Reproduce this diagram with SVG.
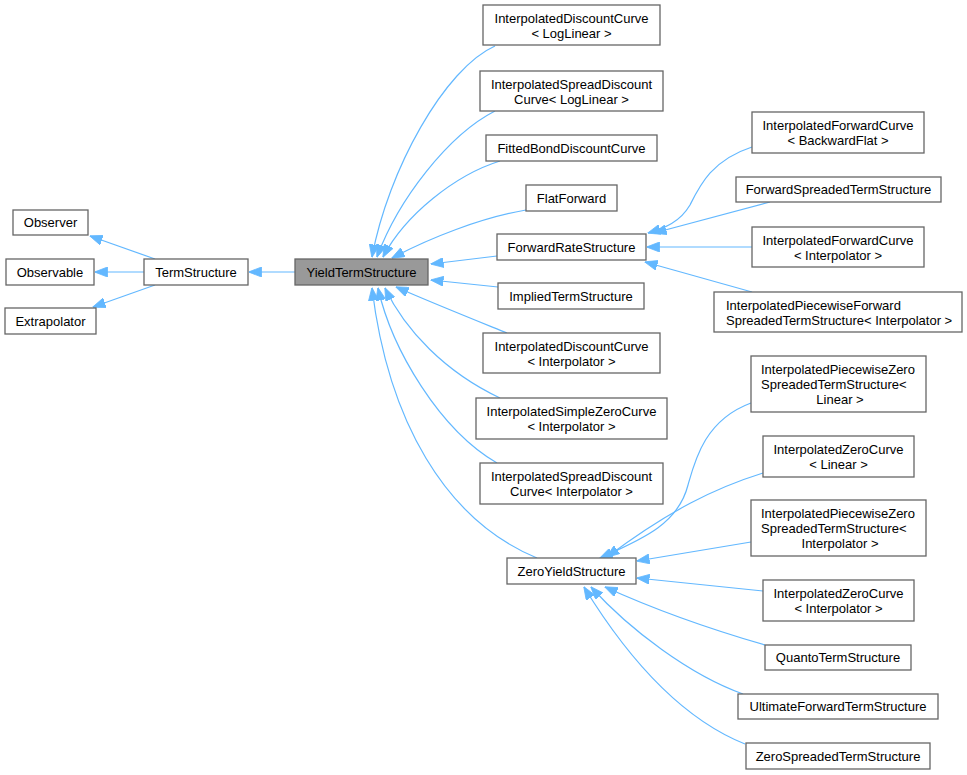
<svg xmlns="http://www.w3.org/2000/svg" width="967" height="775" viewBox="0 0 967 775">
<style>
.n rect{fill:#ffffff;stroke:#666666;stroke-width:1.3}
.n.g rect{fill:#999999}
.n text{font-family:"Liberation Sans",Arial,sans-serif;font-size:13px;fill:#000000}
.c{text-anchor:middle}
#edges path{fill:none;stroke:#63b8ff;stroke-width:1.2;marker-end:url(#ah)}
</style>
<defs>
<marker id="ah" markerUnits="userSpaceOnUse" markerWidth="13" markerHeight="10" viewBox="0 0 13 10" refX="12.5" refY="5" orient="auto">
<path d="M0,0 L13,5 L0,10 z" fill="#63b8ff" stroke="#63b8ff" stroke-width="0.8"/>
</marker>
</defs>
<rect x="0" y="0" width="967" height="775" fill="#ffffff"/>
<g id="edges">
<path d="M155,259 L90,236"/>
<path d="M144,272 L95,272"/>
<path d="M155,285 L93,307"/>
<path d="M295,272 L249,272"/>
<path d="M495,46 C445,68 388,170 372,257"/>
<path d="M495,111 C448,135 398,200 377,257"/>
<path d="M500,161 C455,175 405,215 383,257"/>
<path d="M526,210 C480,218 430,238 392,258"/>
<path d="M497,256 L431,264"/>
<path d="M498,287 L431,280"/>
<path d="M507,333 C470,318 430,302 396,287"/>
<path d="M500,398 C445,372 405,330 385,288"/>
<path d="M497,463 C440,430 392,350 378,288"/>
<path d="M537,558 C445,520 388,420 372,288"/>
<path d="M752,147 C712,160 700,185 690,205 C680,222 665,228 648,233"/>
<path d="M770,202 L654,233"/>
<path d="M752,247 L647,247"/>
<path d="M752,292 L645,262"/>
<path d="M751,403 C705,420 695,460 688,485 C678,525 640,540 600,558"/>
<path d="M763,473 C715,488 670,510 607,557"/>
<path d="M751,542 L637,561"/>
<path d="M763,591 L637,578"/>
<path d="M765,645 C720,632 660,612 605,587"/>
<path d="M743,694 C690,675 630,630 591,587"/>
<path d="M745,744 C690,722 635,670 584,587"/>
</g>
<g id="observer" class="n"><rect x="13" y="210" width="75" height="25"/><text class="c" x="50.5" y="227">Observer</text></g>
<g id="observable" class="n"><rect x="6" y="259" width="88" height="26"/><text class="c" x="50" y="276.5">Observable</text></g>
<g id="extrapolator" class="n"><rect x="5" y="308" width="91" height="26"/><text class="c" x="50.5" y="325.5">Extrapolator</text></g>
<g id="termstructure" class="n"><rect x="144" y="259" width="104" height="26"/><text class="c" x="196" y="276.5">TermStructure</text></g>
<g id="yieldtermstructure" class="n g"><rect x="295" y="259" width="133" height="26"/><text class="c" x="361.5" y="276.5">YieldTermStructure</text></g>
<g id="idc-loglinear" class="n"><rect x="483" y="5" width="177" height="40"/><text class="c" x="571.5" y="23">InterpolatedDiscountCurve</text><text class="c" x="571.5" y="38">&lt; LogLinear &gt;</text></g>
<g id="isdc-loglinear" class="n"><rect x="480" y="71" width="183" height="40"/><text class="c" x="571.5" y="88.5">InterpolatedSpreadDiscount</text><text class="c" x="571.5" y="103.5">Curve&lt; LogLinear &gt;</text></g>
<g id="fittedbond" class="n"><rect x="486" y="135" width="171" height="26"/><text class="c" x="571.5" y="152.5">FittedBondDiscountCurve</text></g>
<g id="flatforward" class="n"><rect x="526" y="185" width="91" height="26"/><text class="c" x="571.5" y="202.5">FlatForward</text></g>
<g id="forwardrate" class="n"><rect x="497" y="234" width="149" height="26"/><text class="c" x="571.5" y="251.5">ForwardRateStructure</text></g>
<g id="implied" class="n"><rect x="498" y="283" width="146" height="26"/><text class="c" x="571" y="300.5">ImpliedTermStructure</text></g>
<g id="idc-interp" class="n"><rect x="483" y="333" width="177" height="40"/><text class="c" x="571.5" y="351">InterpolatedDiscountCurve</text><text class="c" x="571.5" y="366">&lt; Interpolator &gt;</text></g>
<g id="iszc-interp" class="n"><rect x="476" y="398" width="191" height="41"/><text class="c" x="571.5" y="416">InterpolatedSimpleZeroCurve</text><text class="c" x="571.5" y="431">&lt; Interpolator &gt;</text></g>
<g id="isdc-interp" class="n"><rect x="480" y="463" width="183" height="41"/><text class="c" x="571.5" y="481">InterpolatedSpreadDiscount</text><text class="c" x="571.5" y="496">Curve&lt; Interpolator &gt;</text></g>
<g id="zeroyield" class="n"><rect x="507" y="558" width="129" height="26"/><text class="c" x="571.5" y="575.5">ZeroYieldStructure</text></g>
<g id="ifc-backwardflat" class="n"><rect x="752" y="112" width="172" height="41"/><text class="c" x="838" y="130">InterpolatedForwardCurve</text><text class="c" x="838" y="145">&lt; BackwardFlat &gt;</text></g>
<g id="forwardspreaded" class="n"><rect x="736" y="177" width="205" height="25"/><text class="c" x="838.5" y="194">ForwardSpreadedTermStructure</text></g>
<g id="ifc-interp" class="n"><rect x="752" y="227" width="172" height="40"/><text class="c" x="838" y="244.5">InterpolatedForwardCurve</text><text class="c" x="838" y="259.5">&lt; Interpolator &gt;</text></g>
<g id="ipfst-interp" class="n"><rect x="714" y="292" width="248" height="40"/><text x="726" y="310">InterpolatedPiecewiseForward</text><text x="726" y="325">SpreadedTermStructure&lt; Interpolator &gt;</text></g>
<g id="ipzsts-linear" class="n"><rect x="751" y="356" width="175" height="56"/><text x="761" y="374">InterpolatedPiecewiseZero</text><text x="761" y="389">SpreadedTermStructure&lt;</text><text class="c" x="840" y="404">Linear &gt;</text></g>
<g id="izc-linear" class="n"><rect x="763" y="436" width="151" height="41"/><text class="c" x="838.5" y="454">InterpolatedZeroCurve</text><text class="c" x="838.5" y="469">&lt; Linear &gt;</text></g>
<g id="ipzsts-interp" class="n"><rect x="751" y="500" width="175" height="56"/><text x="761" y="518">InterpolatedPiecewiseZero</text><text x="761" y="533">SpreadedTermStructure&lt;</text><text class="c" x="840" y="548">Interpolator &gt;</text></g>
<g id="izc-interp" class="n"><rect x="763" y="580" width="151" height="41"/><text class="c" x="838.5" y="598">InterpolatedZeroCurve</text><text class="c" x="838.5" y="613">&lt; Interpolator &gt;</text></g>
<g id="quanto" class="n"><rect x="765" y="645" width="146" height="25"/><text class="c" x="838" y="662">QuantoTermStructure</text></g>
<g id="ultimateforward" class="n"><rect x="738" y="694" width="200" height="25"/><text class="c" x="838" y="711">UltimateForwardTermStructure</text></g>
<g id="zerospreaded" class="n"><rect x="746" y="743" width="184" height="26"/><text class="c" x="838" y="760.5">ZeroSpreadedTermStructure</text></g>
</svg>
